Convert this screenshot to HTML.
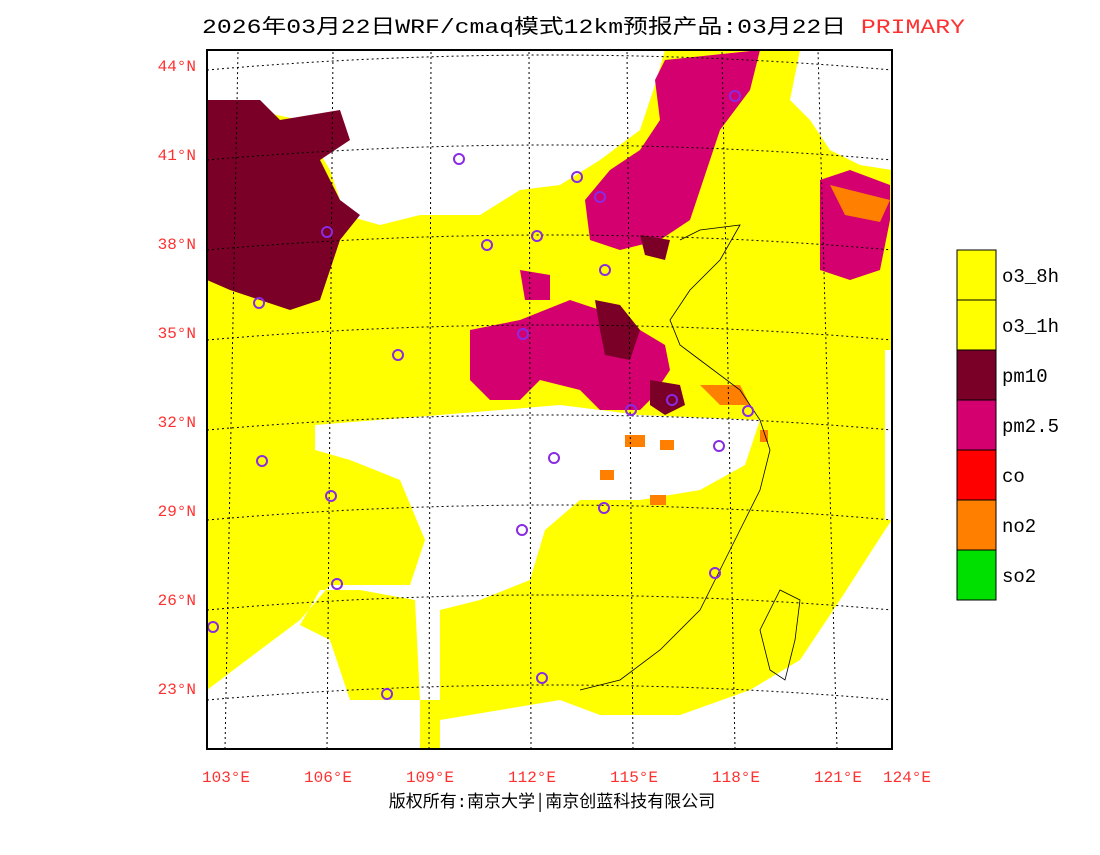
<!DOCTYPE html>
<html><head><meta charset="utf-8"><style>
body{margin:0;background:#fff;width:1100px;height:850px;overflow:hidden}
svg text{font-family:"Liberation Mono","Noto Sans CJK SC",monospace}
</style></head><body>
<svg id="s" width="1100" height="850" xmlns="http://www.w3.org/2000/svg">
<text x="202" y="33" font-size="20" fill="#000" textLength="763" lengthAdjust="spacingAndGlyphs">2026年03月22日WRF/cmaq模式12km预报产品:03月22日 <tspan fill="#ff3030">PRIMARY</tspan></text>
<clipPath id="c"><rect x="207" y="50" width="685" height="699"/></clipPath>
<g clip-path="url(#c)">
<rect x="207" y="50" width="685" height="699" fill="#ffff00"/>
<g fill="#fff">
<polygon points="207,50 665,50 655,85 640,130 600,160 560,185 520,190 480,215 420,215 380,225 345,215 330,170 300,120 207,100"/>
<polygon points="800,50 892,50 892,170 860,165 830,150 810,120 790,100"/>
<polygon points="315,425 440,415 560,405 640,415 760,420 745,465 700,490 640,500 580,500 545,530 530,580 480,600 440,610 440,700 420,700 415,600 360,590 320,590 300,625 330,640 350,700 300,700 240,700 207,700 207,690 260,650 300,620 330,585 410,585 425,540 400,480 350,460 315,450"/>
<polygon points="440,470 500,480 540,500 520,540 470,560 440,560"/>
<polygon points="440,720 560,700 600,715 680,715 750,690 800,660 840,600 885,530 892,520 892,749 440,749"/>
<polygon points="207,700 420,700 420,749 207,749"/>
<polygon points="885,350 892,350 892,520 885,520"/>
</g>
<polygon points="207,100 260,100 280,120 340,110 350,140 320,160 340,200 360,215 340,240 330,270 320,300 290,310 260,300 230,290 207,280" fill="#7a0027"/>
<g fill="#d4006f">
<polygon points="665,60 760,50 750,90 720,130 700,190 690,220 660,240 620,250 590,240 585,200 610,170 640,150 660,120 655,80"/>
<polygon points="820,180 850,170 890,185 890,220 880,270 850,280 820,270"/>
<polygon points="470,330 520,320 570,300 600,310 640,330 665,345 670,370 650,400 640,410 600,410 580,390 540,380 520,400 490,400 470,380"/>
<polygon points="520,270 550,275 550,300 525,300"/>
</g>
<polygon points="830,185 890,200 880,222 845,215" fill="#ff7f00"/>
<g fill="#7a0027">
<polygon points="595,300 620,305 640,330 630,360 605,355 600,330"/>
<polygon points="650,380 680,385 685,405 665,415 650,405"/>
<polygon points="640,235 670,240 665,260 645,255"/>
</g>
<g fill="#ff7f00">
<polygon points="700,385 740,385 750,405 720,405"/>
<rect x="625" y="435" width="20" height="12"/><rect x="660" y="440" width="14" height="10"/><rect x="600" y="470" width="14" height="10"/><rect x="650" y="495" width="16" height="10"/><rect x="760" y="430" width="8" height="12"/>
</g>
<g fill="none" stroke="#000" stroke-width="1" stroke-dasharray="2,3">
<path d="M207,70 Q550,40 892,70"/><path d="M207,160 Q550,130 892,160"/><path d="M207,250 Q550,220 892,250"/><path d="M207,340 Q550,310 892,340"/><path d="M207,430 Q550,400 892,430"/><path d="M207,520 Q550,490 892,520"/><path d="M207,610 Q550,580 892,610"/><path d="M207,700 Q550,670 892,700"/>
<path d="M225,749 L238,50"/><path d="M327,749 L333,50"/><path d="M429,749 L431,50"/><path d="M531,749 L529,50"/><path d="M633,749 L627,50"/><path d="M735,749 L722,50"/><path d="M837,749 L818,50"/>
</g>
<g fill="none" stroke="#000" stroke-width="0.8">
<path d="M680,240 L700,230 740,225 720,260 690,290 670,320 680,345 700,360 740,390 760,420 770,450 760,490 740,530 720,570 700,610 660,650 620,680 580,690"/>
<path d="M780,590 L800,600 795,640 785,680 770,670 760,630 Z"/>
</g>
<g fill="none" stroke="#8a2be2" stroke-width="2" id="cities"></g>
</g>
<rect x="207" y="50" width="685" height="699" fill="none" stroke="#000" stroke-width="2"/>
<g id="ticks" font-size="16" fill="#ff3030"></g>
<g id="legend"></g>
<text x="552" y="807" text-anchor="middle" font-size="17" fill="#000">版权所有:南京大学│南京创蓝科技有限公司</text>
</svg>
<script>
const latLabels=["44°N","41°N","38°N","35°N","32°N","29°N","26°N","23°N"];
const lonLabels=["103°E","106°E","109°E","112°E","115°E","118°E","121°E","124°E"];
const legendNames=["o3_8h","o3_1h","pm10","pm2.5","co","no2","so2"];
const legendColors=["#ffff00","#ffff00","#7a0027","#d4006f","#ff0000","#ff7f00","#00e000"];
const cityX=[735,459,577,600,327,487,537,605,259,398,523,631,672,748,719,554,262,331,604,522,715,337,213,387,542];
const cityY=[96,159,177,197,232,245,236,270,303,355,334,410,400,411,446,458,461,496,508,530,573,584,627,694,678];
const ns="http://www.w3.org/2000/svg";
const t=document.getElementById('ticks');
latLabels.forEach((l,i)=>{const e=document.createElementNS(ns,'text');e.setAttribute('x',196);e.setAttribute('y',71+i*89);e.setAttribute('text-anchor','end');e.textContent=l;


t.appendChild(e);});
lonLabels.forEach((l,i)=>{const e=document.createElementNS(ns,'text');e.setAttribute('x',i==7?907:226+i*102);e.setAttribute('y',782);e.setAttribute('text-anchor','middle');e.textContent=l;


t.appendChild(e);});
const g=document.getElementById('legend');
legendNames.forEach((n,i)=>{const r=document.createElementNS(ns,'rect');r.setAttribute('x',957);r.setAttribute('y',250+i*50);r.setAttribute('width',39);r.setAttribute('height',50);r.setAttribute('fill',legendColors[i]);r.setAttribute('stroke','#000');


g.appendChild(r);
const e=document.createElementNS(ns,'text');e.setAttribute('x',1002);e.setAttribute('y',282+i*50);e.setAttribute('font-size','19');e.textContent=n;


g.appendChild(e);});
const cg=document.getElementById('cities');
cityX.forEach((x,i)=>{const c=document.createElementNS(ns,'circle');c.setAttribute('cx',x);c.setAttribute('cy',cityY[i]);c.setAttribute('r',5);


cg.appendChild(c);});
</script>
</body></html>
